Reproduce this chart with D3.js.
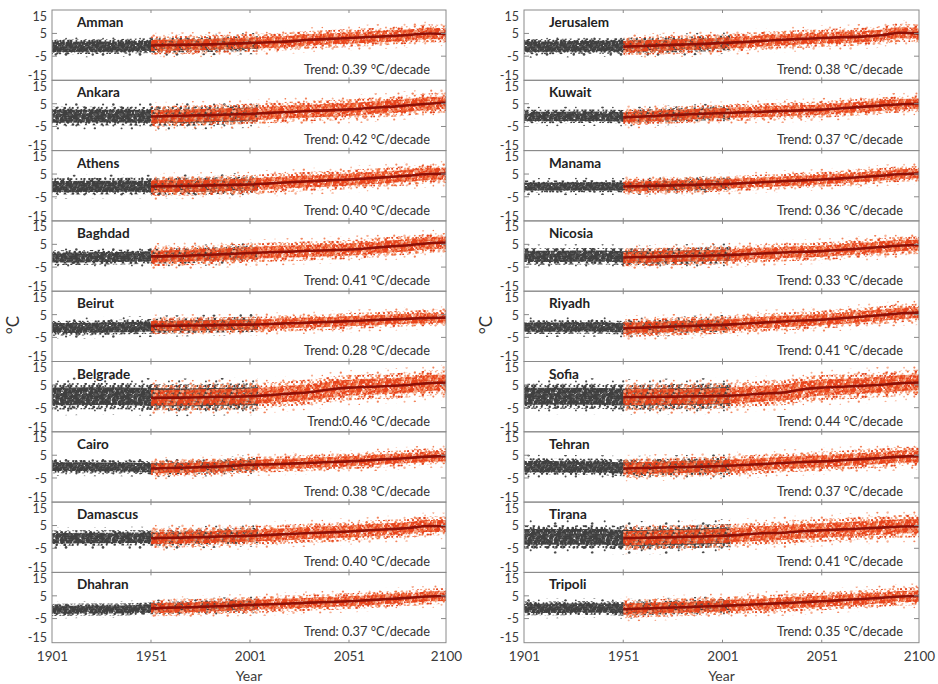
<!DOCTYPE html>
<html>
<head>
<meta charset="utf-8">
<script src="https://cdn.jsdelivr.net/npm/d3@7"></script>
<style>
  body { margin: 0; background: #fff; }
  text { font-family: Lato, "Open Sans", sans-serif; }
</style>
</head>
<body>
<div id="chart"></div>
<script>
// station names and trend labels, left column first then right column
var cities = ["Amman", "Ankara", "Athens", "Baghdad", "Beirut", "Belgrade", "Cairo", "Damascus", "Dhahran",
              "Jerusalem", "Kuwait", "Manama", "Nicosia", "Riyadh", "Sofia", "Tehran", "Tirana", "Tripoli"];
var trends = ["Trend: 0.39 °C/decade", "Trend: 0.42 °C/decade", "Trend: 0.40 °C/decade", "Trend: 0.41 °C/decade",
              "Trend: 0.28 °C/decade", "Trend:0.46 °C/decade", "Trend: 0.38 °C/decade", "Trend: 0.40 °C/decade",
              "Trend: 0.37 °C/decade", "Trend: 0.38 °C/decade", "Trend: 0.37 °C/decade", "Trend: 0.36 °C/decade",
              "Trend: 0.33 °C/decade", "Trend: 0.41 °C/decade", "Trend: 0.44 °C/decade", "Trend: 0.37 °C/decade",
              "Trend: 0.41 °C/decade", "Trend: 0.35 °C/decade"];

// years at which the cloud centres / smoothed line were read
var grayYears = [1901, 1911, 1921, 1931, 1941, 1951, 1961, 1971, 1981, 1991, 2001, 2005];
var lineYears = [1951, 1961, 1971, 1981, 1991, 2001, 2011, 2021, 2031, 2041, 2051, 2061, 2071, 2081, 2091, 2100];

// observed anomalies (grey cloud centre), one row per station
var grayMean = [
  [-1.0, -0.9, -0.8, -0.8, -0.6, -0.4, -0.2, 0.0, 0.1, 0.3, 0.5, 0.5],
  [-0.5, -0.5, -0.4, -0.4, -0.5, -0.6, -0.6, -0.5, -0.3, 0.0, 0.4, 0.5],
  [-0.5, -0.5, -0.4, -0.4, -0.3, -0.5, -0.4, -0.3, -0.2, 0.0, 0.3, 0.4],
  [-0.8, -0.8, -0.7, -0.6, -0.5, -0.3, -0.2, 0.0, 0.4, 0.8, 1.2, 1.3],
  [-1.0, -0.9, -0.8, -0.6, -0.4, -0.2, 0.0, 0.2, 0.3, 0.5, 0.6, 0.6],
  [0.0, 0.0, 0.1, 0.1, 0.0, -0.3, -0.5, -0.5, -0.3, -0.1, 0.0, 0.2],
  [0.0, 0.0, -0.1, -0.1, -0.2, -0.5, -0.5, -0.3, -0.1, 0.4, 0.8, 0.9],
  [-0.6, -0.6, -0.5, -0.5, -0.4, -0.5, -0.4, -0.2, 0.0, 0.3, 0.5, 0.6],
  [-1.2, -1.1, -1.0, -1.0, -0.9, -0.5, -0.2, 0.0, 0.3, 0.6, 1.0, 1.1],
  [-0.8, -0.8, -0.7, -0.6, -0.5, -0.6, -0.4, -0.2, 0.1, 0.4, 0.8, 0.9],
  [-0.6, -0.6, -0.6, -0.5, -0.5, -0.8, -0.5, -0.2, 0.2, 0.6, 0.9, 1.0],
  [-0.5, -0.5, -0.5, -0.4, -0.4, -0.5, -0.3, -0.1, 0.1, 0.4, 0.6, 0.7],
  [-0.3, -0.3, -0.3, -0.2, -0.2, -0.5, -0.5, -0.4, -0.2, 0.0, 0.2, 0.3],
  [-0.5, -0.5, -0.5, -0.4, -0.4, -0.8, -0.6, -0.3, 0.0, 0.3, 0.5, 0.6],
  [0.0, 0.0, 0.0, 0.0, -0.1, -0.3, -0.3, -0.2, -0.1, 0.0, 0.2, 0.3],
  [0.0, 0.0, -0.1, -0.1, -0.2, -0.6, -0.5, -0.3, -0.1, 0.1, 0.3, 0.5],
  [0.0, 0.0, 0.0, 0.0, 0.0, -0.4, -0.4, -0.2, 0.0, 0.2, 0.5, 0.6],
  [-0.5, -0.5, -0.5, -0.4, -0.4, -0.7, -0.5, -0.3, 0.0, 0.3, 0.6, 0.7]
];

// smoothed simulated anomalies (dark red line), one row per station
var redLine = [
  [-0.3, -0.1, 0.0, 0.2, 0.5, 0.8, 1.1, 1.5, 2.2, 2.6, 3.0, 3.4, 3.8, 4.3, 5.0, 4.8],
  [-0.6, -0.4, -0.2, 0.0, 0.3, 0.5, 1.0, 1.4, 1.8, 2.1, 2.5, 3.1, 3.6, 4.3, 5.0, 5.5],
  [-0.5, -0.3, -0.2, 0.0, 0.2, 0.4, 0.9, 1.4, 1.8, 2.2, 2.6, 3.1, 3.7, 4.3, 5.0, 5.2],
  [-0.3, -0.2, 0.1, 0.4, 0.8, 1.2, 1.5, 1.8, 2.2, 2.4, 2.7, 3.3, 4.0, 4.6, 5.5, 5.8],
  [0.0, 0.1, 0.2, 0.3, 0.5, 0.6, 0.9, 1.2, 1.5, 1.8, 2.1, 2.5, 2.9, 3.2, 3.5, 3.7],
  [-0.7, -0.6, -0.5, -0.3, -0.2, 0.0, 0.5, 1.2, 1.8, 3.0, 3.8, 4.2, 4.5, 5.0, 5.8, 6.1],
  [-0.8, -0.6, -0.4, -0.1, 0.3, 0.8, 1.0, 1.3, 1.6, 2.0, 2.3, 2.8, 3.3, 3.8, 4.4, 4.6],
  [-0.6, -0.4, -0.2, 0.0, 0.3, 0.5, 0.9, 1.3, 1.7, 2.0, 2.4, 2.9, 3.4, 3.9, 4.8, 4.7],
  [-0.5, -0.2, 0.0, 0.3, 0.6, 1.0, 1.3, 1.6, 2.0, 2.3, 2.6, 3.1, 3.6, 4.1, 4.7, 4.9],
  [-0.8, -0.5, -0.2, 0.1, 0.4, 0.8, 1.2, 1.7, 2.2, 2.6, 3.0, 3.3, 3.6, 4.2, 5.3, 4.9],
  [-1.0, -0.6, -0.2, 0.2, 0.6, 0.9, 1.2, 1.5, 1.8, 2.1, 2.4, 3.0, 3.6, 4.2, 4.8, 5.0],
  [-0.5, -0.3, -0.1, 0.1, 0.4, 0.6, 1.0, 1.4, 1.8, 2.2, 2.6, 3.1, 3.7, 4.3, 5.0, 5.2],
  [-0.8, -0.6, -0.4, -0.2, 0.0, 0.2, 0.6, 1.0, 1.4, 1.7, 2.0, 2.6, 3.2, 3.8, 4.5, 4.7],
  [-1.0, -0.7, -0.4, -0.1, 0.2, 0.5, 1.0, 1.5, 2.0, 2.4, 2.8, 3.4, 4.1, 4.8, 5.6, 5.9],
  [-0.4, -0.3, -0.2, -0.1, 0.0, 0.2, 0.6, 1.2, 1.6, 3.0, 3.8, 4.2, 4.6, 5.1, 5.8, 6.1],
  [-0.8, -0.6, -0.4, -0.2, 0.0, 0.3, 0.7, 1.1, 1.6, 2.0, 2.3, 2.8, 3.3, 3.8, 4.4, 4.6],
  [-0.6, -0.4, -0.2, 0.0, 0.2, 0.5, 1.0, 1.6, 1.8, 2.5, 2.9, 3.3, 3.7, 4.1, 4.6, 4.7],
  [-0.9, -0.6, -0.3, 0.0, 0.3, 0.6, 1.0, 1.4, 1.8, 2.2, 2.6, 3.1, 3.6, 4.1, 4.7, 4.9]
];

// half-width of the dense part of each cloud (°C)
var graySpread   = [2.6, 3.3, 2.9, 2.6, 2.6, 4.6, 2.3, 2.7, 2.1, 2.7, 2.4, 2.1, 2.9, 2.4, 4.4, 2.9, 4.1, 2.4];
var orangeSpread = [2.9, 3.3, 3.1, 3.1, 2.6, 4.1, 2.6, 3.1, 2.6, 2.9, 2.7, 2.5, 2.9, 2.9, 4.1, 3.1, 3.7, 2.9];

var yTicks = [15, 5, -5, -15];
var xTicks = [1901, 1951, 2001, 2051, 2100];
var innerTicks = [1951, 2001, 2051];

// svg size and panel layout
var svgWidth = 938;
var svgHeight = 684;
var columns = [{left: 52, right: 446}, {left: 524, right: 919}];
var plotTop = 10;
var panelH = 70.3;
var perColumn = 9;

var svg = d3.select("#chart")
  .append("svg")
  .attr("width", svgWidth)
  .attr("height", svgHeight);

var defs = svg.append("defs");

// speckle textures that stand in for the dense monthly scatter
// (dot layout inside the tile is only a fill style, not chart data)
function addSpeckle(id, w, h, count, r, offset, colorOf) {
  var p = defs.append("pattern")
    .attr("id", id)
    .attr("patternUnits", "userSpaceOnUse")
    .attr("width", w)
    .attr("height", h);
  for (var n = 0; n < count; n++) {
    var jx = ((n * 0.41421356 + offset) % 1 - 0.5) * 2.2;
    var jy = ((n * 0.73205081 + offset) % 1 - 0.5) * 2.2;
    var px = (((offset + n * 0.7548776662) % 1) * w + jx + w) % w;
    var py = (((offset * 1.7 + n * 0.5698402910) % 1) * h + jy + h) % h;
    var rr = r * (0.8 + 0.45 * ((n * 0.6180339887) % 1));
    var c = colorOf(n);
    [[0, 0], [-w, 0], [0, -h], [-w, -h], [w, 0], [0, h], [w, h]].forEach(function(s) {
      var cx = px + s[0], cy = py + s[1];
      if (cx > -rr && cx < w + rr && cy > -rr && cy < h + rr) {
        p.append("circle").attr("cx", cx).attr("cy", cy).attr("r", rr).attr("fill", c);
      }
    });
  }
}

var dg = "#3f3f3f";
addSpeckle("grayCore", 26, 20, 185, 1.2, 0.13, n => (n % 9 === 0 ? "#5a5a5a" : dg));
addSpeckle("grayMid", 29, 23, 60, 1.15, 0.41, n => dg);
addSpeckle("grayOuter", 37, 29, 14, 1.1, 0.77, n => "#4a4a4a");
addSpeckle("orangeCore", 26, 20, 160, 1.15, 0.29, function(n) {
  if (n % 6 === 0) return "#f5a583";
  if (n % 4 === 1) return "#f1703f";
  return "#e8421a";
});
addSpeckle("orangeMid", 29, 23, 65, 1.1, 0.57, function(n) {
  if (n % 3 === 0) return "#f6a989";
  if (n % 3 === 1) return "#f0703f";
  return "#e5441b";
});
addSpeckle("orangeOuter", 37, 29, 20, 1.0, 0.91, n => (n % 2 === 0 ? "#f7b094" : "#f2835b"));

cities.forEach(function(city, i) {
  var col = Math.floor(i / perColumn);
  var row = i % perColumn;
  var top = plotTop + row * panelH;
  var bottom = top + panelH;
  var left = columns[col].left;
  var right = columns[col].right;

  var xScale = d3.scaleLinear().domain([1901, 2100]).range([left, right]);
  var yScale = d3.scaleLinear().domain([-15.6, 15.3]).range([bottom, top]);

  var clipId = "clip" + i;
  defs.append("clipPath").attr("id", clipId)
    .append("rect")
    .attr("x", left).attr("y", top)
    .attr("width", right - left).attr("height", panelH);

  var grayData = grayYears.map((yr, k) => ({year: yr, v: grayMean[i][k]}));
  var lineData = lineYears.map((yr, k) => ({year: yr, v: redLine[i][k]}));

  function band(s) {
    return d3.area()
      .x(d => xScale(d.year))
      .y0(d => yScale(d.v - s))
      .y1(d => yScale(d.v + s))
      .curve(d3.curveMonotoneX);
  }

  var g = svg.append("g").attr("clip-path", "url(#" + clipId + ")");
  var gs = graySpread[i], os = orangeSpread[i];

  g.append("path").datum(grayData).attr("d", band(gs * 1.8)).attr("fill", "url(#grayOuter)");
  g.append("path").datum(grayData).attr("d", band(gs * 1.25)).attr("fill", "url(#grayMid)");
  g.append("path").datum(lineData).attr("d", band(os * 1.9)).attr("fill", "url(#orangeOuter)");
  g.append("path").datum(lineData).attr("d", band(os * 1.35)).attr("fill", "url(#orangeMid)");
  g.append("path").datum(grayData).attr("d", band(gs * 0.85)).attr("fill", "url(#grayCore)");
  g.append("path").datum(lineData).attr("d", band(os * 0.85)).attr("fill", "url(#orangeCore)");

  g.append("path")
    .datum(lineData)
    .attr("d", d3.line().x(d => xScale(d.year)).y(d => yScale(d.v)).curve(d3.curveMonotoneX))
    .attr("fill", "none")
    .attr("stroke", "#8e1006")
    .attr("stroke-width", 2.6);

  // panel frame
  svg.append("rect")
    .attr("x", left).attr("y", top)
    .attr("width", right - left).attr("height", panelH)
    .attr("fill", "none")
    .attr("stroke", "#8a8a8a")
    .attr("stroke-width", 1);

  // small inside ticks
  [5, -5].forEach(function(v) {
    svg.append("line").attr("x1", left).attr("x2", left + 5)
      .attr("y1", yScale(v)).attr("y2", yScale(v)).attr("stroke", "#8a8a8a");
    svg.append("line").attr("x1", right - 5).attr("x2", right)
      .attr("y1", yScale(v)).attr("y2", yScale(v)).attr("stroke", "#8a8a8a");
  });
  innerTicks.forEach(function(yr) {
    svg.append("line").attr("x1", xScale(yr)).attr("x2", xScale(yr))
      .attr("y1", top).attr("y2", top + 3).attr("stroke", "#8a8a8a");
    svg.append("line").attr("x1", xScale(yr)).attr("x2", xScale(yr))
      .attr("y1", bottom - 3).attr("y2", bottom).attr("stroke", "#8a8a8a");
  });

  // left axis labels
  var leftAxis = svg.append("g")
    .attr("transform", "translate(" + left + ",0)")
    .call(d3.axisLeft(yScale).tickValues(yTicks).tickFormat(d => String(d)).tickSize(0).tickPadding(5));
  leftAxis.select(".domain").remove();
  leftAxis.selectAll("text")
    .attr("font-size", "12.5px")
    .attr("font-family", "Lato, sans-serif")
    .attr("fill", "#3a3a3a")
    .attr("dy", d => d === 15 ? "0.75em" : (d === -15 ? "0.05em" : "0.35em"));

  // station name and trend
  svg.append("text")
    .attr("x", left + 25)
    .attr("y", top + 17)
    .attr("font-family", "'Liberation Sans', Arial, sans-serif")
    .attr("font-weight", "bold")
    .attr("font-size", "13.5px")
    .attr("fill", "#222")
    .text(city);

  svg.append("text")
    .attr("x", right - 16)
    .attr("y", top + 64)
    .attr("text-anchor", "end")
    .attr("font-size", "12.8px")
    .attr("fill", "#333")
    .text(trends[i]);

  // bottom axis only under the last panel of each column
  if (row === perColumn - 1) {
    var bottomAxis = svg.append("g")
      .attr("transform", "translate(0," + bottom + ")")
      .call(d3.axisBottom(xScale).tickValues(xTicks).tickFormat(d3.format("d")).tickSize(0).tickPadding(9));
    bottomAxis.select(".domain").remove();
    bottomAxis.selectAll("text")
      .attr("font-size", "13.5px")
      .attr("font-family", "Lato, sans-serif")
      .attr("fill", "#3a3a3a");

    svg.append("text")
      .attr("x", (left + right) / 2)
      .attr("y", 681)
      .attr("text-anchor", "middle")
      .attr("font-size", "14px")
      .attr("fill", "#3a3a3a")
      .text("Year");
  }
});

// y-axis titles
[{x: 19, y: 325}, {x: 492, y: 325}].forEach(function(p) {
  svg.append("text")
    .attr("transform", "translate(" + p.x + "," + p.y + ") rotate(-90)")
    .attr("text-anchor", "middle")
    .attr("font-size", "17px")
    .attr("fill", "#333")
    .text("°C");
});
</script>
</body>
</html>
